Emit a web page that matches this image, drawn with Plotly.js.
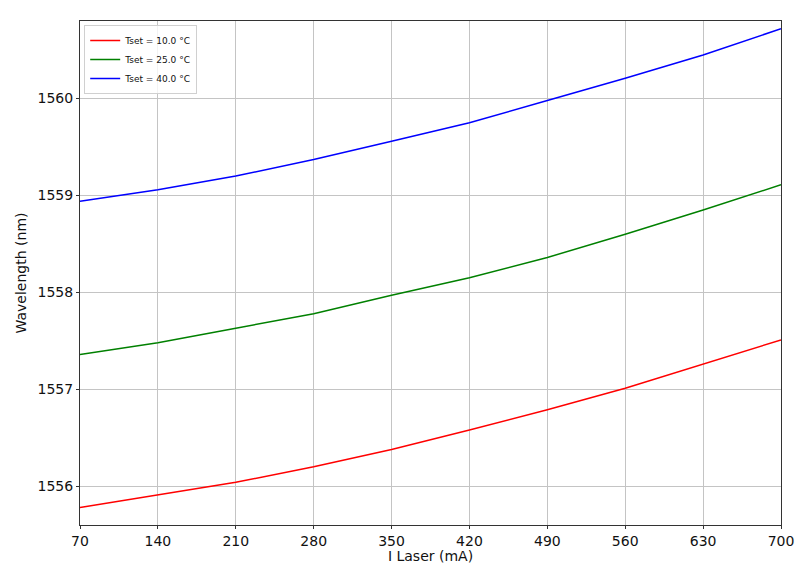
<!DOCTYPE html>
<html>
<head>
<meta charset="utf-8">
<script src="https://cdn.plot.ly/plotly-3.0.1.min.js"></script>
<style>
  html, body { margin: 0; padding: 0; background: #fff; }
  #chart { width: 800px; height: 564px; }
</style>
</head>
<body>
<div id="chart"></div>
<script>
// laser current (mA)
const current = [70, 140, 210, 280, 350, 420, 490, 560, 630, 700];

// wavelength (nm) per set temperature
const wl10 = [1555.78, 1555.91, 1556.04, 1556.20, 1556.38, 1556.58, 1556.79, 1557.01, 1557.26, 1557.51];
const wl25 = [1557.36, 1557.48, 1557.63, 1557.78, 1557.97, 1558.15, 1558.36, 1558.60, 1558.85, 1559.11];
const wl40 = [1558.94, 1559.06, 1559.20, 1559.37, 1559.56, 1559.75, 1559.98, 1560.21, 1560.45, 1560.72];

const seriesNames = ['Tset = 10.0 °C', 'Tset = 25.0 °C', 'Tset = 40.0 °C'];
const seriesColors = ['#ff0000', '#008000', '#0000ff'];

const xTicks = [70, 140, 210, 280, 350, 420, 490, 560, 630, 700];
const yTicks = [1556, 1557, 1558, 1559, 1560];

const traces = [wl10, wl25, wl40].map((ys, i) => ({
  x: current,
  y: ys,
  type: 'scatter',
  mode: 'lines',
  name: seriesNames[i],
  line: { color: seriesColors[i], width: 1.5 }
}));

const axisCommon = {
  showline: true,
  mirror: true,
  linecolor: '#333',
  linewidth: 1,
  showgrid: true,
  gridcolor: '#c4c4c4',
  gridwidth: 1,
  zeroline: false,
  ticks: 'outside',
  ticklen: 3,
  tickcolor: '#333',
  tickfont: { size: 14, color: '#111' }
};

const layout = {
  width: 800,
  height: 564,
  margin: { l: 80, r: 19, t: 21, b: 39 },
  paper_bgcolor: '#fff',
  plot_bgcolor: '#fff',
  font: { family: 'DejaVu Sans, sans-serif', color: '#111' },
  showlegend: true,
  legend: {
    x: 0.006, y: 0.992, xanchor: 'left', yanchor: 'top',
    bgcolor: 'rgba(255,255,255,0.8)',
    bordercolor: '#d0d0d0', borderwidth: 1,
    font: { size: 9 },
    itemwidth: 30,
    tracegroupgap: 0
  },
  xaxis: Object.assign({}, axisCommon, {
    range: [70, 700],
    tickvals: xTicks,
    title: { text: 'I Laser (mA)', font: { size: 14 }, standoff: 3 }
  }),
  yaxis: Object.assign({}, axisCommon, {
    range: [1555.60, 1560.80],
    tickvals: yTicks,
    title: { text: 'Wavelength (nm)', font: { size: 14 }, standoff: 7 }
  })
};

Plotly.newPlot('chart', traces, layout, { displayModeBar: false, staticPlot: true });
</script>
</body>
</html>
